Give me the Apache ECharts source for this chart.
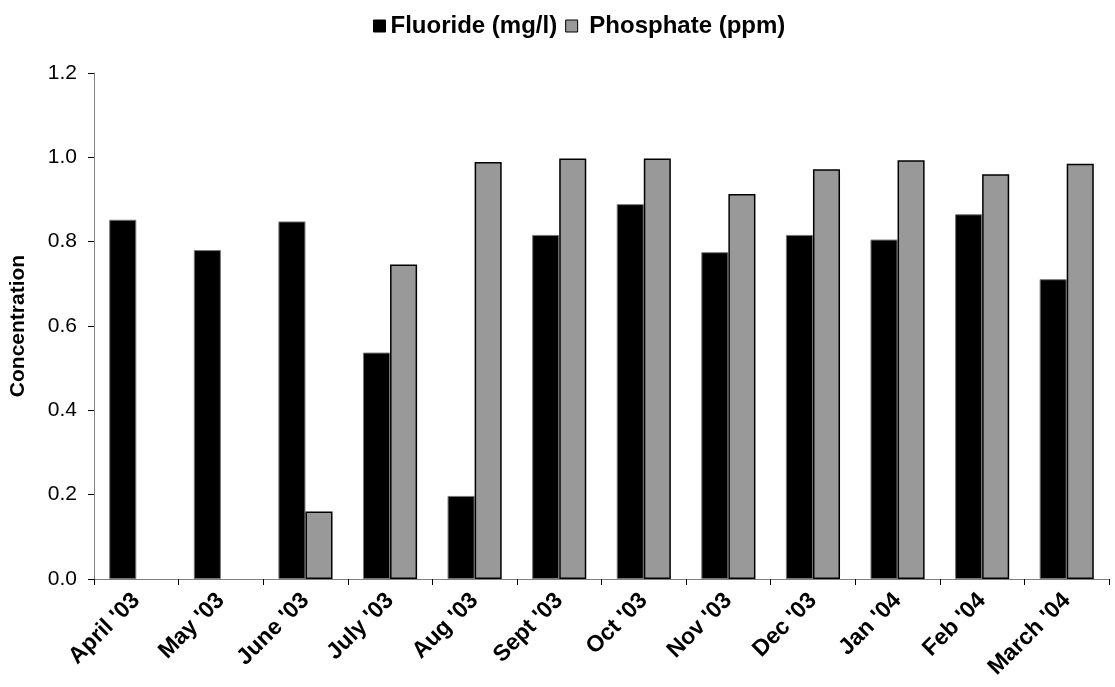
<!DOCTYPE html>
<html>
<head>
<meta charset="utf-8">
<script src="https://cdn.jsdelivr.net/npm/echarts@6/dist/echarts.min.js"></script>
<style>
html,body{margin:0;padding:0;background:#fff;}
#chart{width:1115px;height:687px;}
</style>
</head>
<body>
<div id="chart"></div>
<script>
var categories = ["April '03","May '03","June '03","July '03","Aug '03","Sept '03","Oct '03","Nov '03","Dec '03","Jan '04","Feb '04","March '04"];
var fluoride = [0.852, 0.780, 0.848, 0.537, 0.197, 0.816, 0.889, 0.775, 0.816, 0.805, 0.865, 0.711];
var phosphate = [null, null, 0.160, 0.746, 0.989, 0.997, 0.997, 0.913, 0.972, 0.993, 0.960, 0.985];
var yTicks = {min: 0, max: 1.2, interval: 0.2};

var chart = echarts.init(document.getElementById('chart'));
var font = 'Liberation Sans, Arial, sans-serif';
chart.setOption({
  animation: false,
  backgroundColor: '#ffffff',
  legend: {
    top: 9,
    left: 368,
    itemWidth: 12,
    itemHeight: 12,
    itemGap: 8,
    formatter: function (name) { return name === 'Phosphate (ppm)' ? ' ' + name : name; },
    textStyle: {fontFamily: font, fontSize: 24, fontWeight: 'bold', color: '#000'},
    data: [
      {name: 'Fluoride (mg/l)', icon: 'rect', itemStyle: {color: '#000', borderColor: '#000', borderWidth: 1}},
      {name: 'Phosphate (ppm)', icon: 'rect', itemStyle: {color: '#999999', borderColor: '#000', borderWidth: 1}}
    ]
  },
  grid: {left: 93, right: 6, top: 73, bottom: 108, containLabel: false},
  xAxis: {
    type: 'category',
    data: categories,
    boundaryGap: true,
    axisLine: {lineStyle: {color: '#808080', width: 1}},
    axisTick: {show: true, length: 6, inside: false, lineStyle: {color: '#000'}},
    axisLabel: {
      rotate: 45, interval: 0, margin: 18,
      fontFamily: font, fontSize: 23, fontWeight: 'bold', color: '#000'
    }
  },
  yAxis: {
    type: 'value',
    min: yTicks.min, max: yTicks.max, interval: yTicks.interval,
    name: 'Concentration',
    nameLocation: 'middle',
    nameGap: 65,
    nameTextStyle: {fontFamily: font, fontSize: 21, fontWeight: 'bold', color: '#000'},
    axisLine: {show: true, lineStyle: {color: '#808080', width: 1}},
    axisTick: {show: true, length: 6, lineStyle: {color: '#000'}},
    splitLine: {show: false},
    axisLabel: {
      margin: 17,
      fontFamily: font, fontSize: 21, color: '#000',
      formatter: function (v) { return v.toFixed(1); }
    }
  },
  series: [
    {
      name: 'Fluoride (mg/l)', type: 'bar', data: fluoride,
      barGap: '0%', barCategoryGap: '36%',
      itemStyle: {color: '#000', borderColor: '#777', borderWidth: 1}
    },
    {
      name: 'Phosphate (ppm)', type: 'bar', data: phosphate,
      barGap: '0%', barCategoryGap: '36%',
      itemStyle: {color: '#999999', borderColor: '#000', borderWidth: 1.5}
    }
  ]
});
</script>
</body>
</html>
